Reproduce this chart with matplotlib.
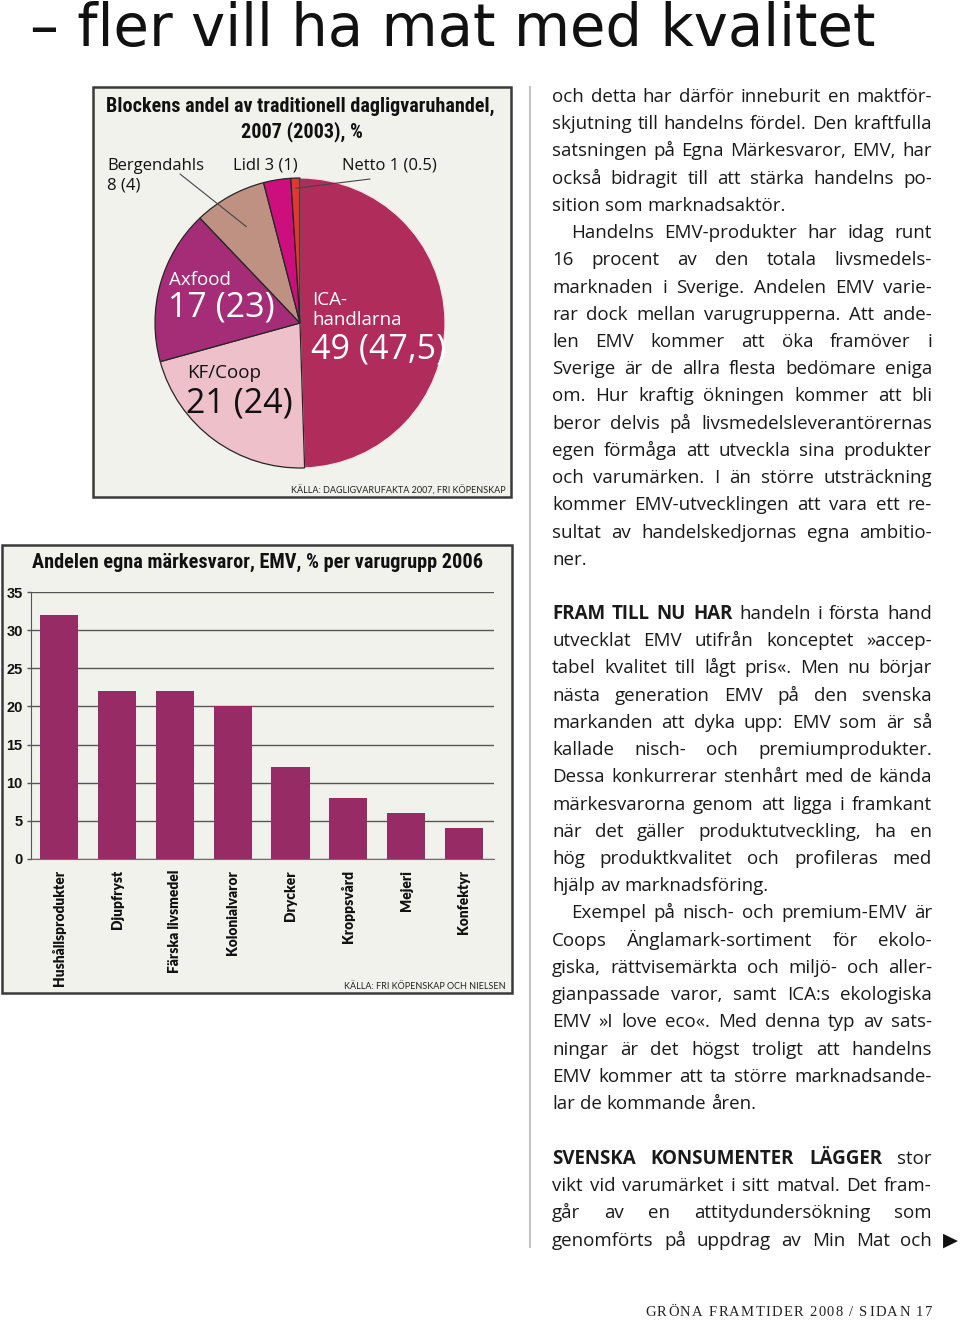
import matplotlib
matplotlib.use('Agg')
import matplotlib.pyplot as plt
from matplotlib.patches import Rectangle
from matplotlib.lines import Line2D
import numpy as np

W, H = 960, 1321

# ---------------- data ----------------
page_title = '– fler vill ha mat med kvalitet'

pie_title = ['Blockens andel av traditionell dagligvaruhandel,', '2007 (2003), %']
pie_names = ['ICA-handlarna', 'KF/Coop', 'Axfood', 'Bergendahls', 'Lidl', 'Netto']
pie_2007 = [49, 21, 17, 8, 3, 1]
pie_2003 = ['47,5', '24', '23', '4', '1', '0.5']
pie_colors = ['#B02C5A', '#EEC0CA', '#A52D78', '#BE9182', '#CD0F7D', '#E13732']
pie_source = 'KÄLLA: DAGLIGVARUFAKTA 2007, FRI KÖPENSKAP'

bar_title = 'Andelen egna märkesvaror, EMV, % per varugrupp 2006'
bar_categories = ['Hushållsprodukter', 'Djupfryst', 'Färska livsmedel', 'Kolonialvaror',
                  'Drycker', 'Kroppsvård', 'Mejeri', 'Konfektyr']
bar_values = [32, 22, 22, 20, 12, 8, 6, 4]
bar_yticks = [0, 5, 10, 15, 20, 25, 30, 35]
bar_source = 'KÄLLA: FRI KÖPENSKAP OCH NIELSEN'

para1 = [
    'och detta har därför inneburit en maktför-',
    'skjutning till handelns fördel. Den kraftfulla',
    'satsningen på Egna Märkesvaror, EMV, har',
    'också bidragit till att stärka handelns po-',
    'sition som marknadsaktör.',
    'Handelns EMV-produkter har idag runt',
    '16 procent av den totala livsmedels-',
    'marknaden i Sverige. Andelen EMV varie-',
    'rar dock mellan varugrupperna. Att ande-',
    'len EMV kommer att öka framöver i',
    'Sverige är de allra flesta bedömare eniga',
    'om. Hur kraftig ökningen kommer att bli',
    'beror delvis på livsmedelsleverantörernas',
    'egen förmåga att utveckla sina produkter',
    'och varumärken. I än större utsträckning',
    'kommer EMV-utvecklingen att vara ett re-',
    'sultat av handelskedjornas egna ambitio-',
    'ner.',
]
para1_indent = [5]
para1_ragged = [4, 17]

para2_lead = 'FRAM TILL NU HAR'
para2 = [
    'handeln i första hand',
    'utvecklat EMV utifrån konceptet »accep-',
    'tabel kvalitet till lågt pris«. Men nu börjar',
    'nästa generation EMV på den svenska',
    'markanden att dyka upp: EMV som är så',
    'kallade nisch- och premiumprodukter.',
    'Dessa konkurrerar stenhårt med de kända',
    'märkesvarorna genom att ligga i framkant',
    'när det gäller produktutveckling, ha en',
    'hög produktkvalitet och profileras med',
    'hjälp av marknadsföring.',
    'Exempel på nisch- och premium-EMV är',
    'Coops Änglamark-sortiment för ekolo-',
    'giska, rättvisemärkta och miljö- och aller-',
    'gianpassade varor, samt ICA:s ekologiska',
    'EMV »I love eco«. Med denna typ av sats-',
    'ningar är det högst troligt att handelns',
    'EMV kommer att ta större marknadsande-',
    'lar de kommande åren.',
]
para2_indent = [11]
para2_ragged = [10, 18]

para3_lead = 'SVENSKA KONSUMENTER LÄGGER'
para3 = [
    'stor',
    'vikt vid varumärket i sitt matval. Det fram-',
    'går av en attitydundersökning som',
    'genomförts på uppdrag av Min Mat och',
]
para3_indent = []
para3_ragged = []

footer = 'GRÖNA FRAMTIDER 2008 / SIDAN 17'

# ---------------- style ----------------
BODY_FONT = ['Open Sans', 'DejaVu Sans']
TITLE_FONT = ['Roboto Condensed', 'Liberation Sans Narrow', 'Roboto', 'DejaVu Sans']
LABEL_FONT = ['Lato', 'DejaVu Sans']
FOOT_FONT = ['Liberation Serif', 'DejaVu Serif']
TEXT_C = '#1a1a1a'
BG = '#F1F2EC'
BORDER = '#3a3a3a'
BAR_C = '#962B66'

fig = plt.figure(figsize=(W / 100, H / 100), dpi=100)
fig.patch.set_facecolor('white')
renderer = fig.canvas.get_renderer()


def fx(x):
    return x / W


def fy(y):
    return 1 - y / H


_cache = {}


def tw(s, **kw):
    key = (s, tuple(sorted((k, str(v)) for k, v in kw.items())))
    if key in _cache:
        return _cache[key]
    t = fig.text(0, 0, s, **kw)
    w = t.get_window_extent(renderer).width
    t.remove()
    _cache[key] = w
    return w


def fit(s, target, size0, **kw):
    return size0 * target / tw(s, size=size0, **kw)


# ---------------- page title ----------------
tkw = dict(family=['DejaVu Sans'])
ts = min(fit(page_title, 885, 40, **tkw), 41.5)
fig.text(fx(30), fy(46), page_title, size=ts, va='baseline', ha='left', color='#111111', **tkw)

# ---------------- boxes ----------------
fig.add_artist(Rectangle((fx(93), fy(497)), (511 - 93) / W, (497 - 87) / H,
                         transform=fig.transFigure, fc=BG, ec=BORDER, lw=1.8, zorder=-1))
fig.add_artist(Rectangle((fx(2), fy(993)), (512 - 2) / W, (993 - 545) / H,
                         transform=fig.transFigure, fc=BG, ec=BORDER, lw=1.8, zorder=-1))
fig.add_artist(Line2D([fx(530), fx(530)], [fy(87), fy(1247)], transform=fig.transFigure,
                      color='#c4c4c4', lw=1.5))

# ---------------- pie ----------------
ttkw = dict(family=TITLE_FONT, weight='bold', fontstretch='condensed')
pts = fit(pie_title[0], 388, 15, **ttkw)
fig.text(fx(300), fy(112), pie_title[0], size=pts, ha='center', va='baseline', color='#111', **ttkw)
fig.text(fx(302), fy(137), pie_title[1], size=pts, ha='center', va='baseline', color='#111', **ttkw)

cx, cy, r = 300, 323, 145
ax_pie = fig.add_axes([fx(cx - r), fy(cy + r), 2 * r / W, 2 * r / H])
wedges, _ = ax_pie.pie(pie_2007, colors=pie_colors, startangle=90, counterclock=False,
                       wedgeprops=dict(linewidth=0.9, edgecolor='#262626'))
wedges[0].set_edgecolor('#f3e3ea')
ax_pie.set_xlim(-1, 1)
ax_pie.set_ylim(-1, 1)
ax_pie.set_aspect('auto')
ax_pie.axis('off')


def wedge_point(w, rr):
    th = np.deg2rad((w.theta1 + w.theta2) / 2)
    return rr * np.cos(th), rr * np.sin(th)


lead_kw = dict(arrowstyle='-', color='#444', lw=0.8, shrinkA=0, shrinkB=0)
ax_pie.annotate('', xy=wedge_point(wedges[3], 0.76), xytext=(fx(180), fy(174)),
                textcoords='figure fraction', arrowprops=lead_kw)
ax_pie.annotate('', xy=wedge_point(wedges[5], 0.93), xytext=(fx(370), fy(179)),
                textcoords='figure fraction', arrowprops=lead_kw)


def ptext(x, y, s, size, color, clip=None):
    t = fig.text(fx(x), fy(y), s, size=size, color=color, family=BODY_FONT,
                 va='baseline', ha='left')
    if clip is not None:
        t.set_clip_path(clip)
    return t


NAME_S, VAL_S, OUT_S = 13.5, 24.5, 12
val = [f'{a} ({b})' for a, b in zip(pie_2007, pie_2003)]
# ICA
ptext(312, 305, 'ICA-', NAME_S, 'white')
ptext(312, 325, 'handlarna', NAME_S, 'white')
ptext(311, 358, val[0], VAL_S, 'white', clip=wedges[0])
# KF/Coop
ptext(187, 378, pie_names[1], NAME_S, '#111')
ptext(186, 412, val[1], VAL_S, '#111')
# Axfood
ptext(169, 285, pie_names[2], NAME_S, 'white')
ptext(168, 317, val[2], VAL_S, 'white')
# outside labels
ptext(107, 170, pie_names[3], OUT_S, '#111')
ptext(107, 190, f'{pie_2007[3]} ({pie_2003[3]})', OUT_S, '#111')
ptext(233, 170, f'{pie_names[4]} {val[4]}', OUT_S, '#111')
ptext(342, 170, f'{pie_names[5]} {val[5]}', OUT_S, '#111')

skw = dict(family=LABEL_FONT)
ss = fit(pie_source, 214, 7, **skw)
fig.text(fx(506), fy(494), pie_source, size=ss, ha='right', va='baseline', color='#222', **skw)

# ---------------- bar chart ----------------
fig.text(fx(258), fy(568), bar_title, size=fit(bar_title, 450, 15, **ttkw), ha='center',
         va='baseline', color='#111', **ttkw)

ax_bar = fig.add_axes([fx(31), fy(859), (494 - 31) / W, (859 - 592) / H])
xpos = np.arange(len(bar_values))
ax_bar.bar(xpos, bar_values, width=0.66, color=BAR_C, zorder=2)
ax_bar.set_xlim(-0.49, 7.52)
ax_bar.set_ylim(0, 35)
ax_bar.set_facecolor('none')
ax_bar.set_yticks(bar_yticks)
ax_bar.set_yticklabels([str(v) for v in bar_yticks], fontweight='bold',
                       family=['Liberation Sans', 'DejaVu Sans'], fontsize=10.5, color='#111')
ax_bar.yaxis.grid(True, color='#555555', lw=1.0)
ax_bar.set_axisbelow(True)
for s in ['top', 'right']:
    ax_bar.spines[s].set_visible(False)
ax_bar.spines['left'].set_color('#555555')
ax_bar.spines['bottom'].set_color('#7a6a72')
ax_bar.tick_params(axis='y', length=3, width=1, color='#555555', pad=3)
ax_bar.set_xticks(xpos)
ax_bar.set_xticklabels(bar_categories, rotation=90, fontweight='heavy', family=LABEL_FONT,
                       fontsize=9.9, color='#111')
ax_bar.tick_params(axis='x', length=0, pad=8)

fig.text(fx(506), fy(989), bar_source, size=fit(bar_source, 160, 7, **skw), ha='right',
         va='baseline', color='#222', **skw)

# ---------------- body text ----------------
X0, X1 = 552, 932
INDENT = 19
STEP = 27.22


def tokens_of(lines, lead):
    out = []
    for i, line in enumerate(lines):
        toks = [(w, 'normal') for w in line.split()]
        if i == 0 and lead:
            toks = [(w, 'bold') for w in lead.split()] + toks
        out.append(toks)
    return out


pars = [
    (tokens_of(para1, None), 102, para1_indent, para1_ragged),
    (tokens_of(para2, para2_lead), 619, para2_indent, para2_ragged),
    (tokens_of(para3, para3_lead), 1164, para3_indent, para3_ragged),
]

REF = 14.0


def nat_width(toks, size):
    sp = tw('n n', size=size, family=BODY_FONT) - tw('nn', size=size, family=BODY_FONT)
    return sum(tw(w, size=size, family=BODY_FONT, weight=wt) for w, wt in toks) + sp * (len(toks) - 1)


ratio = 0
for toks_list, y0, ind, rag in pars:
    for i, toks in enumerate(toks_list):
        if i in rag:
            continue
        avail = X1 - X0 - (INDENT if i in ind else 0)
        ratio = max(ratio, nat_width(toks, REF) / avail)
BS = REF * 0.995 / ratio
SP = tw('n n', size=BS, family=BODY_FONT) - tw('nn', size=BS, family=BODY_FONT)

for toks_list, y0, ind, rag in pars:
    for i, toks in enumerate(toks_list):
        yb = y0 + i * STEP
        x = X0 + (INDENT if i in ind else 0)
        widths = [tw(w, size=BS, family=BODY_FONT, weight=wt) for w, wt in toks]
        if i in rag or len(toks) < 2:
            gap = SP
        else:
            gap = (X1 - x - sum(widths)) / (len(toks) - 1)
        for (w, wt), wd in zip(toks, widths):
            fig.text(fx(x), fy(yb), w, size=BS, family=BODY_FONT, weight=wt,
                     va='baseline', ha='left', color=TEXT_C)
            x += wd + gap

fig.text(fx(950), fy(1240), '▶', family=['DejaVu Sans'], size=14, ha='center', va='center',
         color='#111')

# ---------------- footer ----------------
FS = 10.5
fkw = dict(family=FOOT_FONT, size=FS)
fsp = tw('N N', **fkw) - tw('NN', **fkw)
cws = [fsp if c == ' ' else tw(c, **fkw) for c in footer]
track = (932 - 645 - sum(cws)) / (len(footer) - 1)
x = 645
for c, cw in zip(footer, cws):
    if c != ' ':
        fig.text(fx(x), fy(1316), c, va='baseline', ha='left', color='#222', **fkw)
    x += cw + track

fig.savefig('out.png', dpi=100, facecolor='white')
